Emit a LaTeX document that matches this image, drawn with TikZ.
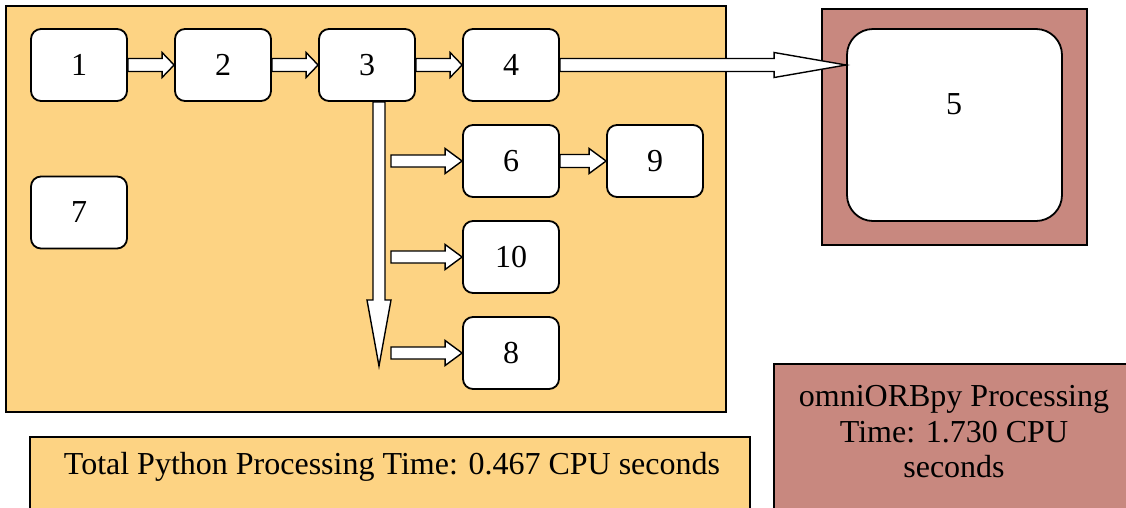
\documentclass[tikz,border=0pt]{standalone}
\usepackage{fontspec}
\setmainfont{Liberation Serif}
\usetikzlibrary{calc}
\definecolor{pyyellow}{RGB}{253,211,131}
\definecolor{orbred}{RGB}{200,136,127}
\tikzset{
  box/.style={draw=black, line width=1.8pt, fill=white, rounded corners=10pt, minimum width=96pt, minimum height=72pt, inner sep=0pt},
  bigbox/.style={draw=black, line width=1.8pt, fill=white, rounded corners=26pt, minimum width=215pt, minimum height=192pt, inner sep=0pt},
  panel/.style={draw=black, line width=1.8pt},
  barrow/.style={draw=black, line width=1.4pt, fill=white, line join=miter},
  txt/.style={font=\fontsize{32}{36}\selectfont, inner sep=0pt}
}
% horizontal block arrow: from, to, shaft half, head half, head length
\newcommand\harr[5]{\draw[barrow] let \p1=(#1), \p2=(#2) in
  (\x1,\y1-#3pt) -- (\x2-#5pt,\y1-#3pt) -- (\x2-#5pt,\y1-#4pt) -- (\x2,\y1) --
  (\x2-#5pt,\y1+#4pt) -- (\x2-#5pt,\y1+#3pt) -- (\x1,\y1+#3pt) -- cycle;}
% vertical (downward) block arrow
\newcommand\varr[5]{\draw[barrow] let \p1=(#1), \p2=(#2) in
  (\x1-#3pt,\y1) -- (\x1-#3pt,\y2+#5pt) -- (\x1-#4pt,\y2+#5pt) -- (\x1,\y2) --
  (\x1+#4pt,\y2+#5pt) -- (\x1+#3pt,\y2+#5pt) -- (\x1+#3pt,\y1) -- cycle;}
\begin{document}
\begin{tikzpicture}[x=1pt,y=-1pt, every node/.style={txt}]
\useasboundingbox (0,0) rectangle (1126,507);
\clip (0,0) rectangle (1126,507);
% panels
\draw[panel, fill=pyyellow] (6,6) rectangle (726,412);
\draw[panel, fill=pyyellow] (30,437) rectangle (750,530);
\draw[panel, fill=orbred] (822,9) rectangle (1087,245);
\draw[panel, fill=orbred] (774,364) rectangle (1140,530);
% nodes
\node[box] (n1) at (79,65) {1};
\node[box] (n2) at (223,65) {2};
\node[box] (n3) at (367,65) {3};
\node[box] (n4) at (511,65) {4};
\node[box] (n6) at (511,161) {6};
\node[box] (n9) at (655,161) {9};
\node[box] (n7) at (79,212.5) {7};
\node[box] (n10) at (511,257) {10};
\node[box] (n8) at (511,353) {8};
\node[bigbox] (n5) at (954.5,125) {};
\node (l5) at (954,104) {5};
% captions
\node (pyt) at (392,467) {Total Python Processing Time: 0.467 CPU seconds};
\node[align=center, font=\fontsize{32}{35.5}\selectfont] (orbt) at (954,432) {omniORBpy Processing\\Time: 1.730 CPU\\seconds};
% connectors
\coordinate (s3) at ($(n3.south)+(12,0)$);
\coordinate (vend) at (379,366);
\coordinate (s6) at (391,161);
\coordinate (s10) at (391,257);
\coordinate (s8) at (391,353);
\harr{n1.east}{n2.west}{6.5}{12.5}{12}
\harr{n2.east}{n3.west}{6.5}{12.5}{12}
\harr{n3.east}{n4.west}{6.5}{12.5}{12}
\harr{n4.east}{n5.west}{6.5}{12.5}{72}
\harr{n6.east}{n9.west}{6.5}{12.5}{17}
\harr{s6}{n6.west}{6}{12.5}{17}
\harr{s10}{n10.west}{6}{12.5}{17}
\harr{s8}{n8.west}{6}{12.5}{17}
\varr{s3}{vend}{6}{12}{66}
\end{tikzpicture}
\end{document}
